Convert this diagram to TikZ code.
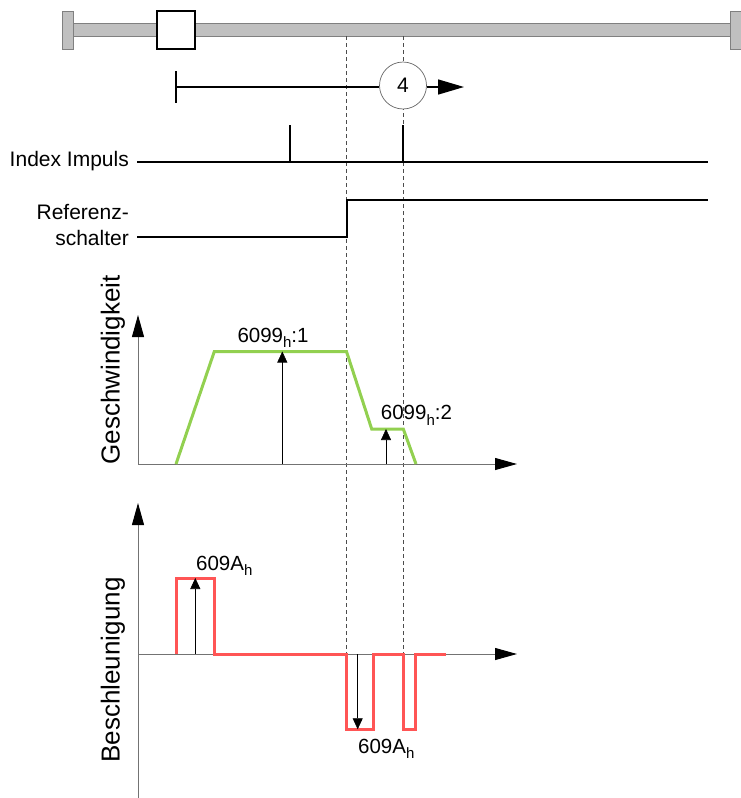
\documentclass[tikz,border=0pt]{standalone}
\usepackage{fontspec}
\setmainfont{Liberation Sans}
\usetikzlibrary{arrows.meta}
\definecolor{vgreen}{RGB}{146,208,80}
\definecolor{ared}{RGB}{255,85,85}
\definecolor{railgray}{RGB}{192,192,192}
\definecolor{raildark}{RGB}{128,128,128}
\newcommand{\lowidx}[1]{\raisebox{-5.5pt}{\fontsize{15}{16}\selectfont #1}}
\begin{document}
\begin{tikzpicture}[x=1pt,y=-1pt,
  sig/.style={line width=2pt,black},
  axis/.style={line width=1pt,draw=black!55,-{Triangle[length=22pt,width=12pt,color=black]}},
  guide/.style={dash pattern=on 4pt off 3pt,line width=0.6pt,black!70},
  valarrow/.style={line width=0.6pt,-{Triangle[length=11pt,width=10pt]}},
  lbl/.style={font=\fontsize{21}{25}\selectfont,inner sep=0pt},
  axlbl/.style={font=\fontsize{26}{30}\selectfont,inner sep=0pt,rotate=90},
  vel/.style={vgreen,line width=3pt,line join=miter},
  acc/.style={ared,line width=3pt,line join=miter}]
\useasboundingbox (0,0) rectangle (740,798);

% rail
\draw[raildark,fill=railgray,line width=0.8pt] (73,23.5) rectangle (730,36);
\draw[raildark,fill=railgray,line width=0.8pt] (62,11) rectangle (73,49);
\draw[raildark,fill=railgray,line width=0.8pt] (730,11) rectangle (741,49);
\node[draw=black,fill=white,line width=1.5pt,minimum width=38pt,minimum height=38pt,inner sep=0pt] (slider) at (176,30) {};

% guide lines
\coordinate (g1t) at (346.5,36);
\coordinate (g1b) at (346.5,654);
\coordinate (g2t) at (403,36);
\coordinate (g2b) at (403,654);
\draw[guide] (g1t) -- (g1b);
\draw[guide] (g2t) -- (g2b);

% homing move arrow
\node[draw=black!60,fill=white,circle,line width=0.7pt,minimum size=47pt,inner sep=0pt,font=\fontsize{21}{24}\selectfont] (c4) at (403,85.5) {4};
\coordinate (mstart) at (176,87);
\coordinate (mend) at (464,87);
\draw[line width=1.5pt] (176,71) -- (176,103);
\draw[line width=1.5pt] (mstart) -- (mstart -| c4.west);
\draw[line width=1.5pt,-{Triangle[length=26pt,width=15pt]}] (mend -| c4.east) -- (mend);

% Index Impuls
\node[lbl,anchor=base east] (idx) at (129,166) {Index Impuls};
\draw[sig] (137,162) -- (708,162);
\draw[sig] (290,125) -- (290,162);
\draw[sig] (403,125) -- (403,162);

% Referenzschalter
\node[lbl,anchor=base east] (ref1) at (129,219) {Referenz-};
\node[lbl,anchor=base east] (ref2) at (129,245) {schalter};
\draw[sig] (137,237) -- (346.5,237) -- (346.5,200) -- (708,200);

% Velocity plot
\coordinate (vo) at (138,464);
\draw[axis] (vo) -- (138,315);
\draw[axis] (vo) -- (517,464);
\node[axlbl] (vlab) at (113,370) {Geschwindigkeit};
\draw[vel] (176,464) -- (214.3,351.5) -- (346.5,351.5) -- (371.7,429) -- (403.3,429) -- (416,464);
\draw[valarrow] (282.3,464) -- (282.3,351.5);
\draw[valarrow] (386,464) -- (386,429);
\node[lbl,anchor=base west,font=\fontsize{20.5}{24}\selectfont] (v1) at (237.3,342.3) {6099\lowidx{h}:1};
\node[lbl,anchor=base west,font=\fontsize{20.5}{24}\selectfont] (v2) at (380.7,419.5) {6099\lowidx{h}:2};

% Acceleration plot
\coordinate (ao) at (138,654);
\draw[line width=1pt,black!55] (138,798) -- (ao);
\draw[axis] (ao) -- (138,503);
\draw[axis] (ao) -- (517,654);
\node[axlbl] (alab) at (113,670) {Beschleunigung};
\draw[acc] (176,654) -- (176,578) -- (214.3,578) -- (214.3,654) -- (346.5,654) -- (346.5,729.3) -- (373.3,729.3) -- (373.3,654) -- (403.3,654) -- (403.3,729.3) -- (415,729.3) -- (415,654) -- (446,654);
\draw[valarrow] (195.3,654) -- (195.3,578);
\draw[valarrow] (357.7,654) -- (357.7,729.3);
\node[lbl,anchor=base west,font=\fontsize{20.5}{24}\selectfont] (a1) at (196,570) {609A\lowidx{h}};
\node[lbl,anchor=base west,font=\fontsize{20.5}{24}\selectfont] (a2) at (358,753) {609A\lowidx{h}};
\end{tikzpicture}
\end{document}
